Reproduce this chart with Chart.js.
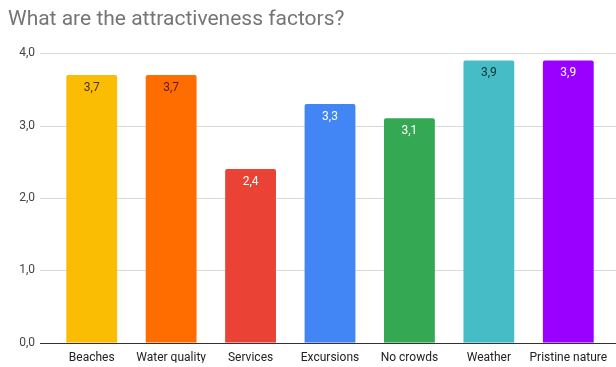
<!DOCTYPE html>
<html lang="en">
<head>
  <meta charset="UTF-8">
  <title>What are the attractiveness factors?</title>
  <script src="https://cdn.jsdelivr.net/npm/chart.js"></script>
  <style>
    body, html {
      margin: 0;
      background: #fff;
    }
    .wrap {
      width: 616px;
      height: 367px;
    }
  </style>
</head>
<body>
  <div class="wrap"><canvas id="factorsChart"></canvas></div>

  <script>
    const categories = ["Beaches", "Water quality", "Services", "Excursions", "No crowds", "Weather", "Pristine nature"];
    const scores = [3.7, 3.7, 2.4, 3.3, 3.1, 3.9, 3.9];
    const yTicks = [0, 1, 2, 3, 4];

    const barColors = ["#fbbc04", "#ff6d01", "#ea4335", "#4285f4", "#34a853", "#46bdc6", "#9900ff"];
    const labelColors = ["#4a3400", "#5a2000", "#ffffff", "#ffffff", "#ffffff", "#0b3134", "#ffffff"];

    const fmt = v => v.toFixed(1).replace(".", ",");

    // horizontal grid lines, running past the plot edges like the sheet chart
    const gridLines = {
      id: "gridLines",
      beforeDatasetsDraw(chart) {
        const { ctx, scales: { y } } = chart;
        ctx.save();
        yTicks.forEach(t => {
          const py = Math.round(y.getPixelForValue(t)) + 0.5;
          ctx.strokeStyle = t === 0 ? "#333333" : "#d9d9d9";
          ctx.lineWidth = 1;
          ctx.beginPath();
          ctx.moveTo(40, py);
          ctx.lineTo(chart.width, py);
          ctx.stroke();
        });
        ctx.restore();
      }
    };

    // value labels just inside the top of each bar
    const barValues = {
      id: "barValues",
      afterDatasetsDraw(chart) {
        const { ctx } = chart;
        const meta = chart.getDatasetMeta(0);
        ctx.save();
        ctx.font = "12px Roboto";
        ctx.textAlign = "center";
        ctx.textBaseline = "middle";
        meta.data.forEach((bar, i) => {
          ctx.fillStyle = labelColors[i];
          ctx.fillText(fmt(scores[i]), bar.x, bar.y + 13);
        });
        ctx.restore();
      }
    };

    const ctx = document.getElementById("factorsChart").getContext("2d");
    new Chart(ctx, {
      type: "bar",
      data: {
        labels: categories,
        datasets: [{
          data: scores,
          backgroundColor: barColors,
          borderRadius: { topLeft: 2, topRight: 2 },
          borderSkipped: "bottom",
          categoryPercentage: 1,
          barPercentage: 0.64
        }]
      },
      options: {
        responsive: true,
        maintainAspectRatio: false,
        animation: false,
        layout: { padding: { left: 8, right: 8, top: 3, bottom: 1 } },
        plugins: {
          legend: { display: false },
          tooltip: { enabled: false },
          title: {
            display: true,
            text: "What are the attractiveness factors?",
            align: "start",
            color: "#757575",
            font: { family: "Roboto", size: 21, weight: "normal" },
            padding: { top: 4, bottom: 21 }
          }
        },
        scales: {
          x: {
            afterFit(scale) {
              scale.height = 20;
            },
            grid: { display: false, drawTicks: false },
            border: { display: false },
            ticks: {
              color: "#222222",
              font: { family: "Roboto", size: 12 },
              padding: 8,
              maxRotation: 0,
              autoSkip: false
            }
          },
          y: {
            min: 0,
            max: 4,
            afterBuildTicks(scale) {
              scale.ticks = yTicks.map(v => ({ value: v }));
            },
            afterFit(scale) {
              scale.width = 44;
            },
            grid: { display: false, drawTicks: false },
            border: { display: false },
            ticks: {
              color: "#444444",
              font: { family: "Roboto", size: 12 },
              padding: 17,
              callback: v => fmt(v)
            }
          }
        }
      },
      plugins: [gridLines, barValues]
    });
  </script>
</body>
</html>
